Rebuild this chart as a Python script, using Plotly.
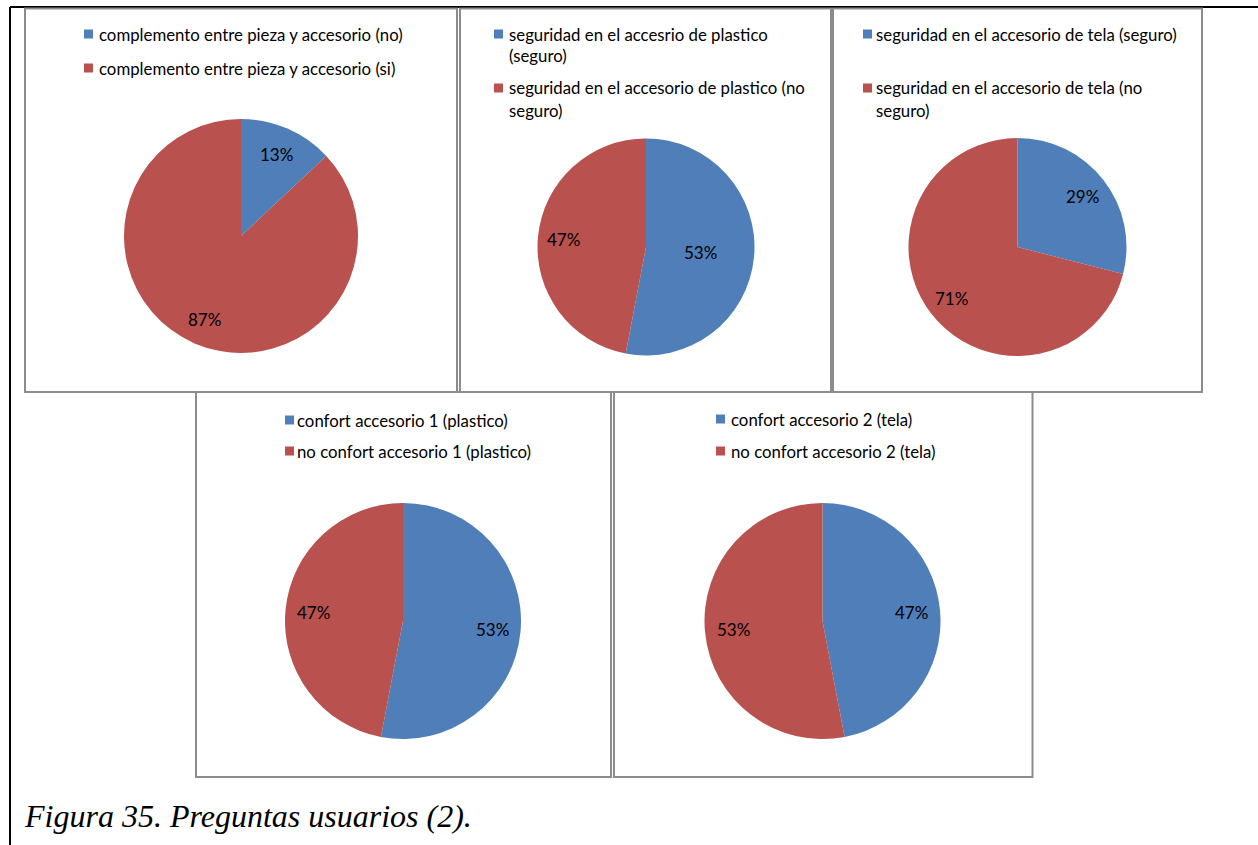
import math
import plotly.graph_objects as go

W, H = 1258, 845
BLUE = "#4F7EB9"
RED = "#B9514E"
UI_FONT = "Lato"

# --- survey answers (percent of respondents) ---
labels_complemento = ["complemento entre pieza y accesorio (no)",
                      "complemento entre pieza y accesorio (si)"]
values_complemento = [13, 87]

labels_seg_plastico = ["seguridad en el accesrio de plastico\n(seguro)",
                       "seguridad en el accesorio de plastico (no\nseguro)"]
values_seg_plastico = [53, 47]

labels_seg_tela = ["seguridad en el accesorio de tela (seguro)",
                   "seguridad en el accesorio de tela (no\nseguro)"]
values_seg_tela = [29, 71]

labels_confort_1 = ["confort accesorio 1 (plastico)",
                    "no confort accesorio 1 (plastico)"]
values_confort_1 = [53, 47]

labels_confort_2 = ["confort accesorio 2 (tela)",
                    "no confort accesorio 2 (tela)"]
values_confort_2 = [47, 53]

caption = "Figura 35. Preguntas usuarios (2)."

# --- layout of each panel, in pixels ---
panels = [
    dict(labels=labels_complemento, values=values_complemento,
         box=(25, 8.5, 457, 392), center=(241, 236), r=117,
         sq_x=84, txt_x=97, item_y=[34, 68], fs=16.8, lab_r=[0.76, 0.78]),
    dict(labels=labels_seg_plastico, values=values_seg_plastico,
         box=(460, 8.5, 831, 392), center=(646, 247), r=108.5,
         sq_x=494, txt_x=507, item_y=[34, 88], fs=16.8, lab_r=[0.5, 0.76]),
    dict(labels=labels_seg_tela, values=values_seg_tela,
         box=(833, 8.5, 1202, 392), center=(1017.5, 247), r=109,
         sq_x=863, txt_x=874, item_y=[34, 88], fs=16.8, lab_r=[0.75, 0.77]),
    dict(labels=labels_confort_1, values=values_confort_1,
         box=(196, 392, 611, 777), center=(403, 621), r=118,
         sq_x=285, txt_x=295, item_y=[420, 451], fs=16.8, lab_r=[0.76, 0.76]),
    dict(labels=labels_confort_2, values=values_confort_2,
         box=(614, 392, 1032.5, 777), center=(822.5, 621), r=118,
         sq_x=716, txt_x=729, item_y=[419, 451], fs=16.8, lab_r=[0.76, 0.76]),
]


def px(x):
    return x / W


def py(y):
    return 1 - y / H


fig = go.Figure()
shapes = []
annotations = []

# page frame (table cell edges)
shapes.append(dict(type="line", xref="paper", yref="paper",
                   x0=px(10), x1=px(W), y0=py(7), y1=py(7),
                   line=dict(color="black", width=2)))
shapes.append(dict(type="line", xref="paper", yref="paper",
                   x0=px(10), x1=px(10), y0=py(7), y1=py(H),
                   line=dict(color="black", width=2)))

colors = [BLUE, RED]

for p in panels:
    x0, y0, x1, y1 = p["box"]
    shapes.append(dict(type="rect", xref="paper", yref="paper",
                       x0=px(x0), x1=px(x1), y0=py(y1), y1=py(y0),
                       line=dict(color="#8c8c8c", width=2),
                       fillcolor="rgba(0,0,0,0)"))
    cx, cy = p["center"]
    r = p["r"]
    fig.add_trace(go.Pie(
        labels=[s.replace("\n", " ") for s in p["labels"]],
        values=p["values"],
        sort=False, direction="clockwise", rotation=0,
        marker=dict(colors=colors, line=dict(width=0)),
        textinfo="none", hoverinfo="label+percent",
        showlegend=False,
        domain=dict(x=[px(cx - r), px(cx + r)], y=[py(cy + r), py(cy - r)]),
    ))

    # percentage labels at the middle angle of each slice
    total = sum(p["values"])
    start = 0.0
    for v, rf in zip(p["values"], p["lab_r"]):
        frac = v / total
        mid = (start + frac / 2) * 2 * math.pi
        start += frac
        lx = cx + rf * r * math.sin(mid)
        ly = cy - rf * r * math.cos(mid)
        annotations.append(dict(
            x=px(lx), y=py(ly), xref="paper", yref="paper",
            text=f"{round(frac * 100)}%", showarrow=False,
            xanchor="center", yanchor="middle",
            font=dict(family=UI_FONT, size=17, color="#000000")))

    # legend: coloured square + label lines
    for label, col, iy in zip(p["labels"], colors, p["item_y"]):
        shapes.append(dict(type="rect", xref="paper", yref="paper",
                           x0=px(p["sq_x"]), x1=px(p["sq_x"] + 9),
                           y0=py(iy + 4.5), y1=py(iy - 4.5),
                           line=dict(width=0), fillcolor=col))
        for k, line in enumerate(label.split("\n")):
            annotations.append(dict(
                x=px(p["txt_x"]), y=py(iy + 22 * k), xref="paper", yref="paper",
                text=line, showarrow=False, xanchor="left", yanchor="middle",
                font=dict(family=UI_FONT, size=p["fs"], color="#000000")))

annotations.append(dict(
    x=px(22), y=py(816), xref="paper", yref="paper", text=f"<i>{caption}</i>",
    showarrow=False, xanchor="left", yanchor="middle",
    font=dict(family="Liberation Serif", size=32, color="#000000")))

fig.update_layout(
    width=W, height=H,
    margin=dict(l=0, r=0, t=0, b=0),
    paper_bgcolor="white", plot_bgcolor="white",
    shapes=shapes, annotations=annotations,
)

fig.write_html("out.html")
